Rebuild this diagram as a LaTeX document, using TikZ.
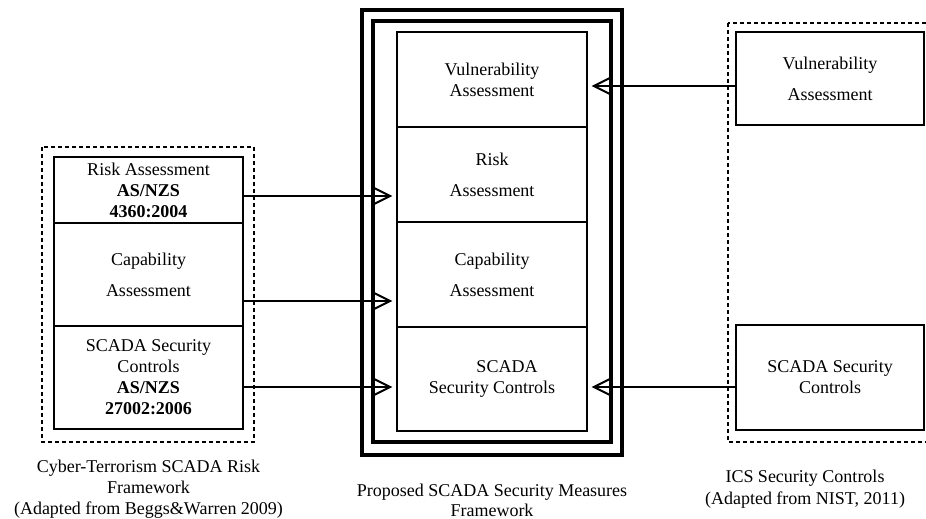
\documentclass[tikz,border=0pt]{standalone}
\usepackage{fontspec}
\setmainfont{Liberation Serif}
\usetikzlibrary{arrows.meta,positioning}

\begin{document}
\begin{tikzpicture}[x=1pt, y=-1pt,
    txt/.style={align=center, font=\fontsize{18}{21}\selectfont},
    blk/.style={txt, draw, line width=1.4pt, minimum width=189pt, inner sep=0pt},
    grp/.style={line width=1.2pt, dash pattern=on 4pt off 3pt},
    frm/.style={line width=4.5pt},
    lnk/.style={line width=2pt, -{Straight Barb[length=17pt,width=17pt]}, shorten >=4pt}]
    \useasboundingbox (0,0) rectangle (926,519);

    \draw[grp] (42,147) rectangle (254,442);
    \node[blk, minimum height=66pt] (lrisk) at (148.5,190) {Risk Assessment\\\textbf{AS/NZS}\\\textbf{4360:2004}};
    \node[blk, minimum height=103pt] (lcap) at (148.5,274.5) {Capability\\[10pt]Assessment};
    \node[blk, minimum height=103pt] (lscada) at (148.5,377.5) {SCADA Security\\Controls\\\textbf{AS/NZS}\\\textbf{27002:2006}};

    \draw[frm] (362,10) rectangle (622,455);
    \draw[frm] (373,21) rectangle (611,442);
    \node[blk, minimum width=190pt, minimum height=95pt] (cvuln) at (492,79.5) {Vulnerability\\Assessment};
    \node[blk, minimum width=190pt, minimum height=95pt] (crisk) at (492,174.5) {Risk\\[10pt]Assessment};
    \node[blk, minimum width=190pt, minimum height=105pt] (ccap) at (492,274.5) {Capability\\[10pt]Assessment};
    \node[blk, minimum width=190pt, minimum height=104pt] (cscada) at (492,379) {\hspace*{30pt}SCADA\\Security Controls};

    \draw[grp] (728,23) rectangle (940,442);
    \node[blk, minimum width=188pt, minimum height=93pt] (rvuln) at (830,78.5) {Vulnerability\\[10pt]Assessment};
    \node[blk, minimum width=188pt, minimum height=105pt] (rscada) at (830,377.5) {SCADA Security\\Controls};

    \coordinate (a1) at ([yshift=-6pt]lrisk.east);
    \coordinate (a2) at ([yshift=-26.5pt]lcap.east);
    \coordinate (a3) at ([yshift=-9.5pt]lscada.east);
    \coordinate (a4) at ([yshift=-7.5pt]rvuln.west);
    \coordinate (a5) at ([yshift=-9.5pt]rscada.west);
    \draw[lnk] (a1) -- (a1 -| crisk.west);
    \draw[lnk] (a2) -- (a2 -| ccap.west);
    \draw[lnk] (a3) -- (a3 -| cscada.west);
    \draw[lnk] (a4) -- (a4 -| cvuln.east);
    \draw[lnk] (a5) -- (a5 -| cscada.east);

    \node[txt] (lcapt) at (148.5,489) {Cyber-Terrorism SCADA Risk\\Framework\\(Adapted from Beggs\&Warren 2009)};
    \node[txt, font=\fontsize{18}{20}\selectfont] (ccapt) at (492,500) {Proposed SCADA Security Measures\\Framework};
    \node[txt, font=\fontsize{18}{22}\selectfont] (rcapt) at (805,489) {ICS Security Controls\\(Adapted from NIST, 2011)};
\end{tikzpicture}
\end{document}
